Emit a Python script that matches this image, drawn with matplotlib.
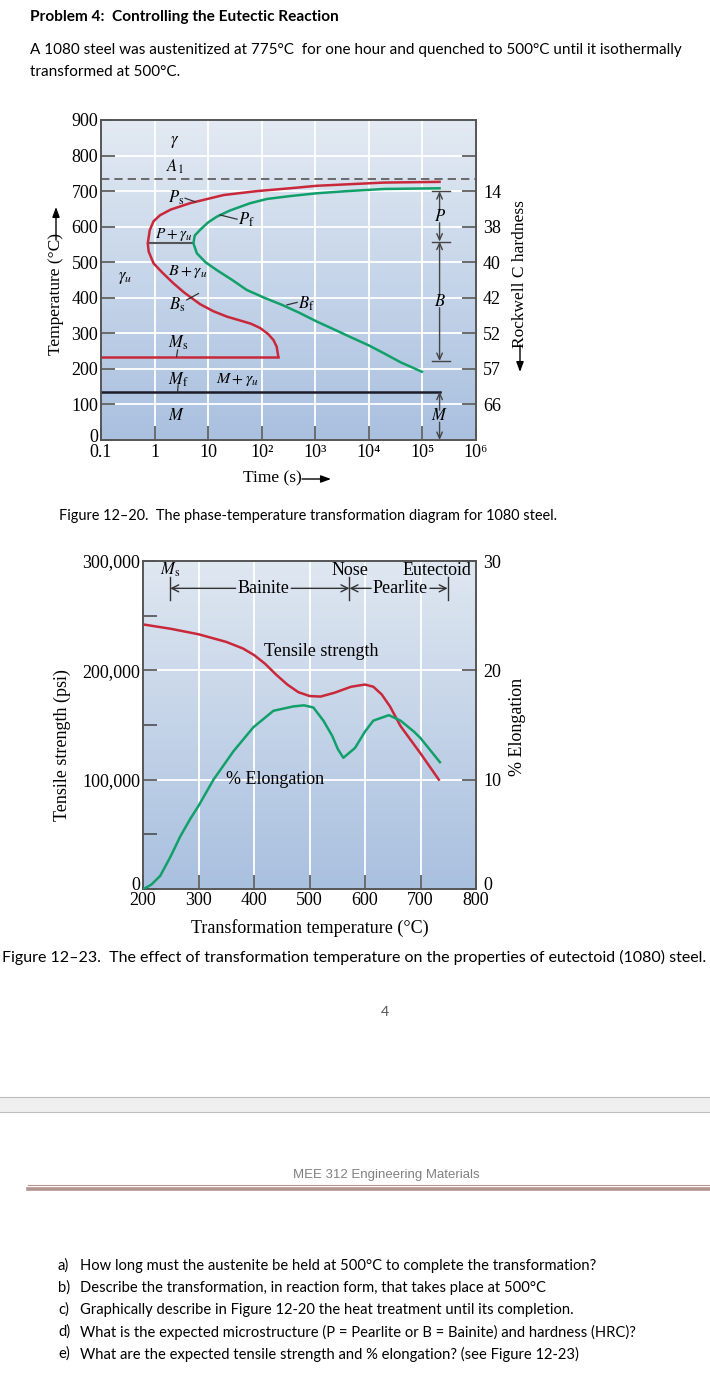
import numpy as np
import matplotlib
matplotlib.use('Agg')
import matplotlib.pyplot as plt
from matplotlib.colors import LinearSegmentedColormap
from matplotlib.transforms import ScaledTranslation

W, H = 710, 1382

# ---- Figure 12-20 data (log10 time in s, temperature in C) ----
time_ticks = [0.1, 1, 10, 1e2, 1e3, 1e4, 1e5, 1e6]
time_labels = ['0.1', '1', '10', '10²', '10³', '10⁴', '10⁵', '10⁶']
temp_ticks = [0, 100, 200, 300, 400, 500, 600, 700, 800, 900]
hard_temps = [100, 200, 300, 400, 500, 600, 700, 800]
hard_labels = ['66', '57', '52', '42', '40', '38', '14', '']

start_logt = [5.32, 4.28, 3.03, 2.53, 1.91, 1.29, 0.66, 0.3, 0.1, -0.02, -0.09, -0.127,
              -0.11, -0.02, 0.15, 0.35, 0.55, 0.85, 1.1, 1.35, 1.6, 1.8, 1.97, 2.12, 2.22, 2.28, 2.31]
start_temp = [726, 724, 715, 708, 700, 689, 666, 648, 632, 615, 590, 553,
              530, 497, 470, 441, 415, 382, 362, 347, 336, 327, 315, 298, 281, 262, 234]
finish_logt = [5.32, 4.28, 3.6, 3.03, 2.53, 2.1, 1.785, 1.6, 1.4, 1.16, 1.0, 0.85, 0.75, 0.725,
               0.79, 0.95, 1.16, 1.45, 1.72, 2.05, 2.38, 2.7, 3.03, 3.35, 3.65, 4.0, 4.28, 4.6, 4.99]
finish_temp = [708, 706, 700, 694, 686, 678, 666, 656, 645, 628, 612, 591, 575, 553,
               525, 500, 478, 450, 422, 400, 380, 358, 333, 311, 290, 266, 244, 218, 192]
ms_temp, ms_logt = 234, 2.31
mf_temp, mf_logt = 136, 5.32
a1_temp = 733
nose_temp = 553

# ---- Figure 12-23 data ----
tt_ticks = [200, 300, 400, 500, 600, 700, 800]
ts_ticks = [0, 100000, 200000, 300000]
ts_labels = ['0', '100,000', '200,000', '300,000']
el_ticks = [0, 10, 20, 30]
tens_T = [200, 250, 300, 350, 380, 400, 420, 440, 460, 480, 500, 520, 545, 575, 600, 615,
          630, 645, 664, 700, 733]
tens_psi = [242000, 238000, 233000, 226000, 220000, 214000, 206000, 196000, 187000, 180000,
            176500, 176000, 179500, 185000, 187000, 185000, 178000, 167000, 149000, 124000, 100000]
elong_T = [201, 215, 231, 250, 267, 285, 300, 327, 363, 399, 435, 471, 490, 507, 525, 541,
           551, 561, 582, 600, 615, 643, 664, 688, 700, 735]
elong_pct = [0, 0.4, 1.2, 3.0, 4.8, 6.4, 7.6, 10.0, 12.6, 14.8, 16.3, 16.7, 16.8, 16.6, 15.4,
             14.0, 12.8, 12.0, 12.9, 14.4, 15.4, 15.9, 15.4, 14.4, 13.8, 11.6]

questions = [
    ('a)', 'How long must the austenite be held at 500°C to complete the transformation?'),
    ('b)', 'Describe the transformation, in reaction form, that takes place at 500°C'),
    ('c)', 'Graphically describe in Figure 12-20 the heat treatment until its completion.'),
    ('d)', 'What is the expected microstructure (P = Pearlite or B = Bainite) and hardness (HRC)?'),
    ('e)', 'What are the expected tensile strength and % elongation? (see Figure 12-23)'),
]

RED = '#c9283a'
GREEN = '#12a06a'
SERIF = ['Liberation Serif', 'DejaVu Serif']
DOC = ['Lato', 'DejaVu Sans']

plt.rcParams['font.family'] = SERIF
plt.rcParams['mathtext.fontset'] = 'stix'

fig = plt.figure(figsize=(W / 100, H / 100), dpi=100)
renderer = fig.canvas.get_renderer()


def rect(l, t, r, b):
    return [l / W, 1 - b / H, (r - l) / W, (b - t) / H]


def gradient_bg(r, top, bottom):
    bg = fig.add_axes(r, zorder=0)
    cmap = LinearSegmentedColormap.from_list('bg', [bottom, top])
    bg.imshow(np.linspace(0, 1, 256).reshape(-1, 1), cmap=cmap, origin='lower',
              aspect='auto', extent=[0, 1, 0, 1])
    bg.axis('off')


def doc_text(x0, x1, y, s, size=None, **kw):
    t = fig.text(x0 / W, 1 - y / H, s, fontsize=10, va='center', ha='left', family=DOC, **kw)
    if size is None:
        w = t.get_window_extent(renderer=renderer).width
        size = 10 * (x1 - x0) / w
    t.set_fontsize(size)
    return size


def fig_arrow(ax, x0, y0, x1, y1):
    ax.annotate('', xy=(x1, H - y1), xytext=(x0, H - y0), xycoords='figure pixels',
                arrowprops=dict(arrowstyle='-|>,head_length=0.6,head_width=0.22', color='k',
                                lw=1.0, shrinkA=0, shrinkB=0))


def style_axes(ax):
    for s in ax.spines.values():
        s.set_color('#555555')
        s.set_linewidth(1.2)
    ax.tick_params(which='both', direction='in', length=10, width=1.1, color='#444444',
                   labelsize=13, pad=3)


def lift_zero(ax, px):
    # nudge the "0" label up a few pixels, clear of the x labels
    tk = ax.yaxis.get_major_ticks()[0]
    off = ScaledTranslation(0, px / 100, fig.dpi_scale_trans)
    for lb in (tk.label1, tk.label2):
        lb.set_transform(lb.get_transform() + off)


# ================= Figure 12-20 =================
r1 = rect(101, 120, 476, 440)
gradient_bg(r1, '#e3eaf3', '#a9c0df')
ax1 = fig.add_axes(r1, zorder=1)
ax1.patch.set_alpha(0)
ax1.set_xscale('log')
ax1.set_xlim(0.1, 1e6)
ax1.set_ylim(0, 900)
ax1.set_xticks(time_ticks)
ax1.set_xticklabels(time_labels)
ax1.xaxis.set_minor_locator(matplotlib.ticker.NullLocator())
ax1.set_yticks(temp_ticks)
ax1.grid(True, color='white', lw=1.3)
ax1.set_axisbelow(True)
style_axes(ax1)
ax1.tick_params(axis='y', pad=2)
lift_zero(ax1, 4)

ax1r = ax1.twinx()
ax1r.set_ylim(0, 900)
ax1r.set_yticks(hard_temps)
ax1r.set_yticklabels(hard_labels)
style_axes(ax1r)
ax1r.tick_params(axis='y', pad=5)

st_t = 10 ** np.array(start_logt)
fi_t = 10 ** np.array(finish_logt)
ax1.plot(st_t, start_temp, color=RED, lw=1.8, zorder=4)
ax1.plot(fi_t, finish_temp, color=GREEN, lw=1.8, zorder=4)
ax1.plot([0.1, 10 ** ms_logt], [ms_temp, ms_temp], color=RED, lw=1.8, zorder=4)
ax1.plot([0.1, 10 ** mf_logt], [mf_temp, mf_temp], color='#1c1c2a', lw=1.8, zorder=4)
ax1.plot([0.1, 1e6], [a1_temp, a1_temp], color='#555555', lw=1.2, ls=(0, (5, 3)), zorder=3)
ax1.plot([10 ** -0.127, 10 ** 0.725], [nose_temp, nose_temp], color='#555555', lw=1.5, zorder=3)

lab = dict(fontsize=12, ha='center', va='center', zorder=5)
ax1.text(10 ** 0.383, 839, r'$\gamma$', **lab)
ax1.text(10 ** 0.383, 768, r'$A_1$', **lab)
ax1.text(10 ** 0.40, 680, r'$P_\mathrm{s}$', **lab)
ax1.text(10 ** 0.35, 578, r'$P + \gamma_u$', fontsize=11, ha='center', va='center', zorder=5)
ax1.text(10 ** 0.626, 473, r'$B + \gamma_u$', fontsize=11.5, ha='center', va='center', zorder=5)
ax1.text(10 ** -0.55, 455, r'$\gamma_u$', **lab)
ax1.text(10 ** 0.415, 380, r'$B_\mathrm{s}$', **lab)
ax1.text(10 ** 0.445, 272, r'$M_\mathrm{s}$', **lab)
ax1.text(10 ** 0.445, 169, r'$M_\mathrm{f}$', **lab)
ax1.text(10 ** 1.54, 171, r'$M + \gamma_u$', fontsize=11.5, ha='center', va='center', zorder=5)
ax1.text(10 ** 0.415, 67, r'$M$', **lab)
ax1.text(10 ** 1.56, 619, r'$P_\mathrm{f}$', fontsize=12, ha='left', va='center', zorder=5)
ax1.text(10 ** 2.68, 384, r'$B_\mathrm{f}$', fontsize=12, ha='left', va='center', zorder=5)

leaders = [((0.57, 680), (0.757, 670)), ((1.22, 633), (1.54, 621)), ((0.6, 394), (0.82, 412)),
           ((0.43, 253), (0.41, 234)), ((0.44, 155), (0.43, 136)), ((2.47, 380), (2.66, 387))]
for (xa, ya), (xb, yb) in leaders:
    ax1.plot([10 ** xa, 10 ** xb], [ya, yb], color='#333333', lw=0.9, zorder=5)

# hardness bands on the right
xm = 10 ** 5.32
for T in [700, 558, 222]:
    ax1.plot([10 ** 5.18, 10 ** 5.52], [T, T], color='#444444', lw=1.0, zorder=5)
arr = dict(arrowstyle='->,head_length=0.45,head_width=0.2', color='#444444', lw=1.0,
           shrinkA=0, shrinkB=0)
for lo, hi, mid, name in [(558, 700, 628, 'P'), (222, 558, 389, 'B'), (0, 136, 67, 'M')]:
    ax1.annotate('', xy=(xm, hi), xytext=(xm, mid + 17), arrowprops=arr, zorder=5)
    ax1.annotate('', xy=(xm, lo), xytext=(xm, mid - 17), arrowprops=arr, zorder=5)
    ax1.text(xm, mid, '$' + name + '$', **lab)

fig.text(243 / W, 1 - 478 / H, 'Time (s)', fontsize=12.5, ha='left', va='center')
fig_arrow(ax1, 302, 479, 331, 479)
fig.text(56 / W, 1 - 294 / H, 'Temperature (°C)', fontsize=12.5, rotation=90,
         ha='center', va='center')
fig_arrow(ax1, 56, 240, 56, 207)
fig.text(520 / W, 1 - 274 / H, 'Rockwell C hardness', fontsize=12.5, rotation=90,
         ha='center', va='center')
fig_arrow(ax1, 520, 345, 520, 372)

# ================= Figure 12-23 =================
r2 = rect(143, 561, 476, 889)
gradient_bg(r2, '#dfe7f1', '#a9c0df')
ax2 = fig.add_axes(r2, zorder=1)
ax2.patch.set_alpha(0)
ax2.set_xlim(200, 800)
ax2.set_ylim(0, 300000)
ax2.set_xticks(tt_ticks)
ax2.set_yticks(ts_ticks)
ax2.set_yticklabels(ts_labels)
ax2.set_yticks([50000, 150000, 250000], minor=True)
ax2.grid(True, which='major', color='white', lw=1.3)
ax2.set_axisbelow(True)
style_axes(ax2)
ax2.tick_params(axis='y', pad=2)
ax2.tick_params(axis='x', pad=2)
lift_zero(ax2, 5)

ax2r = ax2.twinx()
ax2r.set_ylim(0, 30)
ax2r.set_yticks(el_ticks)
style_axes(ax2r)
ax2r.tick_params(axis='y', pad=5)
lift_zero(ax2r, 5)

ax2.plot(tens_T, tens_psi, color=RED, lw=1.8, zorder=4)
ax2r.plot(elong_T, elong_pct, color=GREEN, lw=1.8, zorder=4)

dark = '#333333'
for T in [249, 572, 749]:
    ax2.plot([T, T], [264000, 285000], color=dark, lw=1.0, zorder=5)
arr2 = dict(arrowstyle='->,head_length=0.5,head_width=0.25', color=dark, lw=1.0,
            shrinkA=0, shrinkB=0)
ya = 275000
for x0, x1 in [(367, 249), (467, 572), (611, 572), (717, 749)]:
    ax2.annotate('', xy=(x1, ya), xytext=(x0, ya), arrowprops=arr2, zorder=5)
lab2 = dict(fontsize=13, ha='center', va='center', zorder=5)
ax2.text(417, ya, 'Bainite', **lab2)
ax2.text(664, ya, 'Pearlite', **lab2)
ax2.text(573, 291000, 'Nose', **lab2)
ax2.text(730, 291000, 'Eutectoid', **lab2)
ax2.text(249, 292000, r'$M_\mathrm{s}$', fontsize=12, ha='center', va='center', zorder=5)
ax2.text(522, 217000, 'Tensile strength', **lab2)
ax2.text(438, 100000, '% Elongation', **lab2)

fig.text(62 / W, 1 - 745 / H, 'Tensile strength (psi)', fontsize=13, rotation=90,
         ha='center', va='center')
fig.text(518 / W, 1 - 727 / H, '% Elongation', fontsize=13, rotation=90,
         ha='center', va='center')
fig.text(310 / W, 1 - 928 / H, 'Transformation temperature (°C)', fontsize=13,
         ha='center', va='center')

# ================= document text =================
doc_text(30, 340, 17, 'Problem 4:  Controlling the Eutectic Reaction', fontweight='bold')
s = doc_text(30, 683, 50, 'A 1080 steel was austenitized at 775°C  for one hour and quenched to '
             '500°C until it isothermally')
doc_text(30, 0, 72, 'transformed at 500°C.', size=s)
doc_text(59, 558, 516, 'Figure 12–20.  The phase-temperature transformation diagram for 1080 steel.')
doc_text(2, 708, 957, 'Figure 12–23.  The effect of transformation temperature on the properties '
         'of eutectoid (1080) steel.')
fig.text(385 / W, 1 - 1012 / H, '4', fontsize=10, ha='center', va='center', family=DOC,
         color='#555555')

band = fig.add_axes(rect(0, 1097, W, 1112), zorder=0)
band.set_facecolor('#efefef')
band.set_xticks([])
band.set_yticks([])
for k, sp in band.spines.items():
    sp.set_visible(k in ('top', 'bottom'))
    sp.set_color('#bdbdbd')

fig.text(386 / W, 1 - 1175 / H, 'MEE 312 Engineering Materials', fontsize=9.5, ha='center',
         va='center', family=['Liberation Sans', 'DejaVu Sans'], color='#808080')
fig.add_artist(plt.Line2D([28 / W, 1], [1 - 1185 / H] * 2, color='#b4948f', lw=0.8))
fig.add_artist(plt.Line2D([28 / W, 1], [1 - 1188.5 / H] * 2, color='#b4948f', lw=2.6))

qsize = None
for i, (lbl, q) in enumerate(questions):
    y = 1266 + 22 * i
    if qsize is None:
        qsize = doc_text(80, 596, y, q)
    else:
        doc_text(80, 0, y, q, size=qsize)
    doc_text(58, 0, y, lbl, size=qsize)

fig.savefig('out.png', dpi=100)
